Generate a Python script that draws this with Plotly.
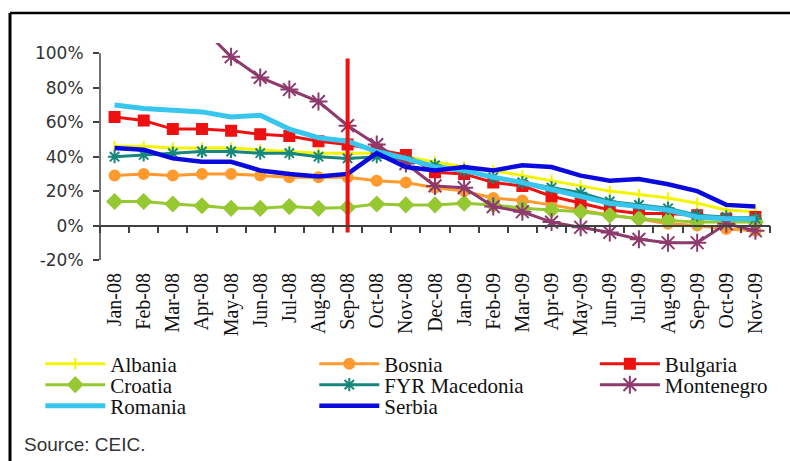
import plotly.graph_objects as go

# Year-on-year credit growth by country, monthly
months = ["Jan-08", "Feb-08", "Mar-08", "Apr-08", "May-08", "Jun-08", "Jul-08",
          "Aug-08", "Sep-08", "Oct-08", "Nov-08", "Dec-08", "Jan-09", "Feb-09",
          "Mar-09", "Apr-09", "May-09", "Jun-09", "Jul-09", "Aug-09", "Sep-09",
          "Oct-09", "Nov-09"]

albania = [46, 46, 45, 45, 45, 44, 43, 42, 42, 42, 40, 37, 34, 32, 29, 26, 23, 20, 18, 16, 13, 9, 8]
bosnia = [29, 30, 29, 30, 30, 29, 28, 28, 28, 26, 25, 22, 20, 16, 14.5, 12, 9, 6, 4, 1, 0, -2, -3]
bulgaria = [63, 61, 56, 56, 55, 53, 52, 49, 47, 44, 41, 31, 30, 25, 23, 17, 13, 9, 7, 7, 6, 4, 5]
croatia = [14, 14, 12.5, 11.5, 10, 10, 11, 10, 10.5, 12.5, 12, 12, 13, 12, 10, 9, 8, 6, 4, 3, 2, 2, 2]
fyr_macedonia = [40, 41, 42, 43, 43, 42, 42, 40, 39, 40, 38, 35, 32, 28, 25, 22, 19, 14, 12, 10, 6, 5, 4]
montenegro = [140, 132, 124, 115, 98, 86, 79, 72, 58, 47, 36, 23, 22, 11, 8, 2, -1, -4, -8, -10, -10, 1, -3]
romania = [70, 68, 67, 66, 63, 64, 56, 51, 49, 43, 39, 34, 32, 28, 25, 21, 17, 13, 11, 9, 5, 4, 4]
serbia = [45, 44, 39, 37, 37, 32, 30, 28.5, 30, 42, 34, 32, 34, 32, 35, 34, 29, 26, 27, 24, 20, 12, 11]

# Collapse of Lehman Brothers marker
event_month = "Sep-08"
event_span = [97, -4]

y_ticks = [-20, 0, 20, 40, 60, 80, 100]
y_tick_text = ["-20%", "0%", "20%", "40%", "60%", "80%", "100%"]

series = [
    # name, values, color, line width, marker symbol, marker size, legend box
    ("Albania", albania, "#F4F400", 3, "line-ns", 8, "legend"),
    ("Bosnia", bosnia, "#FF9A2E", 3, "circle", 10, "legend"),
    ("Bulgaria", bulgaria, "#EE1111", 3, "square", 10, "legend4"),
    ("Croatia", croatia, "#96C832", 3, "diamond", 11, "legend2"),
    ("FYR Macedonia", fyr_macedonia, "#17877C", 3, "asterisk-open", 11, "legend2"),
    ("Montenegro", montenegro, "#8E3A6C", 3, "asterisk-open", 15, "legend5"),
    ("Romania", romania, "#38C6EE", 5, None, 0, "legend3"),
    ("Serbia", serbia, "#0A0ADC", 4.5, None, 0, "legend3"),
]

fig = go.Figure()
for name, vals, color, width, symbol, size, leg in series:
    if symbol:
        mode = "lines+markers"
        marker = dict(symbol=symbol, size=size, color=color,
                      line=dict(color=color, width=2))
    else:
        mode = "lines"
        marker = None
    fig.add_trace(go.Scatter(
        x=months, y=vals, name=name, mode=mode,
        line=dict(color=color, width=width),
        marker=marker, legend=leg,
    ))

# Vertical event line, drawn on the overlay axis that carries the zero line
fig.add_trace(go.Scatter(
    x=[event_month, event_month], y=event_span, mode="lines",
    line=dict(color="#EE1111", width=4), showlegend=False,
    xaxis="x2", yaxis="y",
))

axis_color = "#404040"
y_min, y_max = -20, 106

fig.update_layout(
    width=790, height=461,
    margin=dict(l=100, r=20, t=43, b=201, autoexpand=False),
    paper_bgcolor="white", plot_bgcolor="white",
    showlegend=True,
    xaxis=dict(
        type="category", categoryorder="array", categoryarray=months,
        range=[-0.5, len(months) - 0.5],
        showline=False, showgrid=False, zeroline=False, ticks="",
        tickangle=-90, ticklabelstandoff=8,
        tickfont=dict(family="Liberation Serif", size=20, color="#111"),
    ),
    xaxis2=dict(
        type="category", categoryorder="array", categoryarray=months,
        overlaying="x", matches="x", anchor="free",
        position=(0 - y_min) / (y_max - y_min),
        showline=True, linecolor=axis_color, linewidth=1.5,
        ticks="outside", tickson="boundaries", ticklen=7,
        tickcolor=axis_color, tickwidth=1.5,
        showticklabels=False, showgrid=False, zeroline=False,
    ),
    yaxis=dict(
        range=[y_min, y_max], tickvals=y_ticks, ticktext=y_tick_text,
        showline=False, showgrid=False, zeroline=False,
        ticks="outside", ticklen=6, tickcolor=axis_color, tickwidth=1.5,
        ticklabelstandoff=6,
        tickfont=dict(family="DejaVu Sans", size=17, color="#333"),
    ),
)

# Legend laid out as three rows; the third column gets its own boxes
legend_common = dict(
    orientation="h", xref="container", yref="container",
    xanchor="left", yanchor="middle", itemwidth=60, entrywidth=199,
    font=dict(family="Liberation Serif", size=21, color="#111"),
    bgcolor="rgba(0,0,0,0)", tracegroupgap=0,
)
row_y = [1 - 364 / 461, 1 - 385 / 461, 1 - 406 / 461]
col_x = [0.051, 0.753]
fig.update_layout(
    legend=dict(legend_common, x=col_x[0], y=row_y[0]),
    legend2=dict(legend_common, x=col_x[0], y=row_y[1]),
    legend3=dict(legend_common, x=col_x[0], y=row_y[2]),
    legend4=dict(legend_common, x=col_x[1], y=row_y[0]),
    legend5=dict(legend_common, x=col_x[1], y=row_y[1]),
)

# Y axis line running from -20% to 100%
fig.add_shape(type="line", xref="paper", yref="y", x0=0, x1=0,
              y0=y_ticks[0], y1=y_ticks[-1],
              line=dict(color=axis_color, width=1.5))

# Frame lines along the top and left edges
plot_w, plot_h = 670, 217
fig.add_shape(type="line", xref="paper", yref="paper",
              x0=(10 - 100) / plot_w, x1=(790 - 100) / plot_w,
              y0=(260 - 13) / plot_h, y1=(260 - 13) / plot_h,
              line=dict(color="black", width=2.5))
fig.add_shape(type="line", xref="paper", yref="paper",
              x0=(10 - 100) / plot_w, x1=(10 - 100) / plot_w,
              y0=(260 - 13) / plot_h, y1=(260 - 470) / plot_h,
              line=dict(color="black", width=3))

fig.add_annotation(
    text="Source: CEIC.", xref="paper", yref="paper",
    x=(22 - 100) / plot_w, y=(260 - 444) / plot_h,
    xanchor="left", yanchor="middle", showarrow=False,
    font=dict(family="Liberation Sans", size=19, color="#333"),
)

fig.write_html("out.html")
